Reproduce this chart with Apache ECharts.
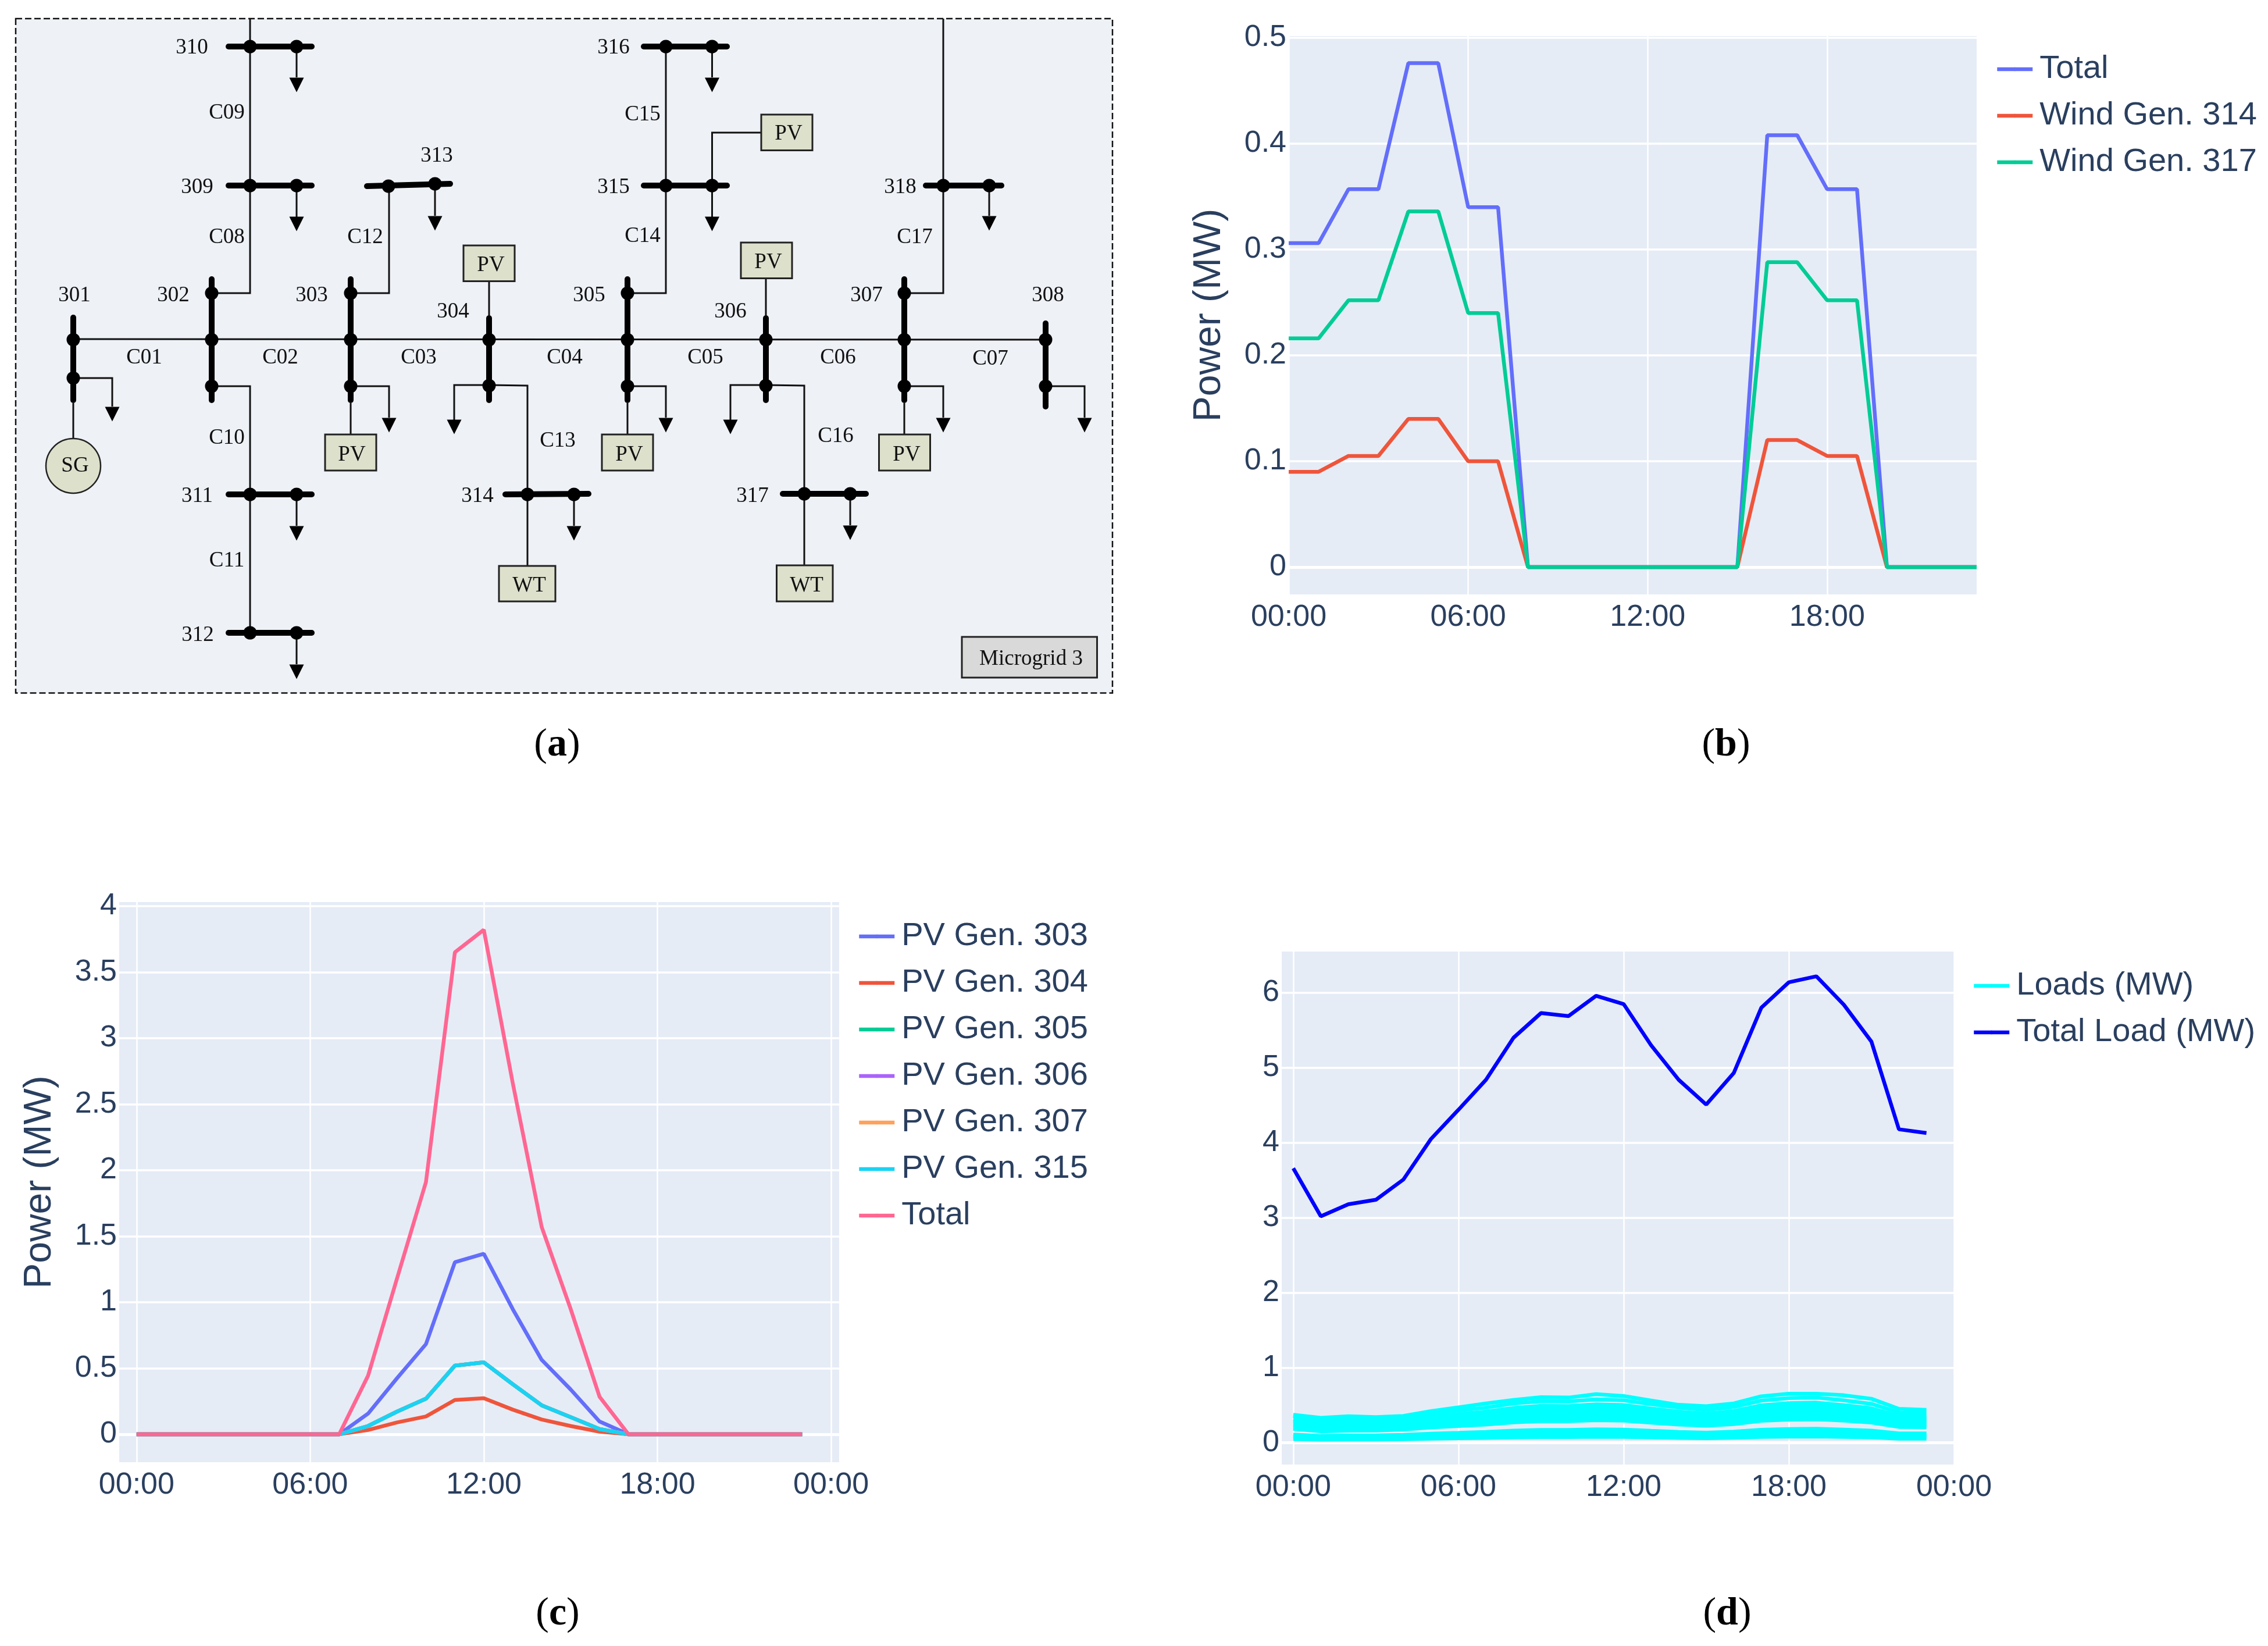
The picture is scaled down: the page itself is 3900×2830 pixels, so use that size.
<!DOCTYPE html>
<html><head><meta charset="utf-8">
<style>html,body{margin:0;padding:0;background:#fff}#c{width:3900px;height:2830px}</style>
<script src="https://cdn.jsdelivr.net/npm/echarts@6/dist/echarts.min.js"></script>
</head><body><div id="c"></div>
<script>
// ---------- panel (b) ----------
const hours = [0,1,2,3,4,5,6,7,8,9,10,11,12,13,14,15,16,17,18,19,20,21,22,23];
const windTotal = [0.306,0.306,0.357,0.357,0.476,0.476,0.34,0.34,0,0,0,0,0,0,0,0,0.408,0.408,0.357,0.357,0,0,0,0];
const wind314 = [0.09,0.09,0.105,0.105,0.14,0.14,0.1,0.1,0,0,0,0,0,0,0,0,0.12,0.12,0.105,0.105,0,0,0,0];
const wind317 = [0.216,0.216,0.252,0.252,0.336,0.336,0.24,0.24,0,0,0,0,0,0,0,0,0.288,0.288,0.252,0.252,0,0,0,0];
const bYTicks = [0,0.1,0.2,0.3,0.4,0.5];
const bXTicks = [0,6,12,18];
// ---------- panel (c) ----------
const pv303 = [0,0,0,0,0,0,0,0,0.157,0.425,0.683,1.303,1.367,0.948,0.564,0.34,0.097,0,0,0,0,0,0,0];
const pv304 = [0,0,0,0,0,0,0,0,0.033,0.09,0.135,0.26,0.273,0.187,0.112,0.063,0.02,0,0,0,0,0,0,0];
const pv305 = [0,0,0,0,0,0,0,0,0.063,0.172,0.27,0.52,0.545,0.38,0.22,0.13,0.04,0,0,0,0,0,0,0];
const pv306 = [0,0,0,0,0,0,0,0,0.063,0.172,0.27,0.52,0.545,0.38,0.22,0.13,0.04,0,0,0,0,0,0,0];
const pv307 = [0,0,0,0,0,0,0,0,0.063,0.172,0.27,0.52,0.545,0.38,0.22,0.13,0.04,0,0,0,0,0,0,0];
const pv315 = [0,0,0,0,0,0,0,0,0.063,0.172,0.27,0.52,0.545,0.38,0.22,0.13,0.04,0,0,0,0,0,0,0];
const pvTotal = [0,0,0,0,0,0,0,0,0.444,1.18,1.91,3.65,3.82,2.66,1.57,0.95,0.284,0,0,0,0,0,0,0];
const cYTicks = [0,0.5,1,1.5,2,2.5,3,3.5,4];
const cdXTicks = [0,6,12,18,24];
const xTickText = {0:'00:00',6:'06:00',12:'12:00',18:'18:00',24:'00:00'};
// ---------- panel (d) ----------
const totalLoad = [3.66,3.02,3.18,3.24,3.51,4.05,4.44,4.84,5.40,5.73,5.69,5.96,5.85,5.30,4.84,4.51,4.93,5.80,6.14,6.22,5.84,5.35,4.18,4.13];
const loadA = [.374,.332,.353,.343,.358,.421,.473,.525,.571,.608,.603,.649,.623,.563,.506,.488,.525,.62,.655,.655,.634,.587,.452,.439];
const loadB = [.355,.293,.308,.314,.340,.393,.431,.469,.524,.556,.552,.578,.567,.514,.469,.437,.478,.563,.596,.603,.566,.519,.405,.401];
const loadC = [.315,.260,.273,.279,.302,.348,.382,.416,.464,.493,.489,.513,.503,.456,.416,.388,.424,.499,.528,.535,.502,.460,.359,.355];
const loadD = [.293,.242,.254,.259,.281,.324,.355,.387,.432,.458,.455,.477,.468,.424,.387,.361,.394,.464,.491,.498,.467,.428,.334,.330];
const loadE = [.271,.223,.235,.240,.260,.300,.329,.358,.400,.424,.421,.441,.433,.392,.358,.334,.365,.429,.454,.460,.432,.396,.309,.306];
const loadF = [.249,.205,.216,.220,.239,.275,.302,.329,.367,.390,.387,.405,.398,.360,.329,.307,.335,.394,.418,.423,.397,.364,.284,.281];
const loadG = [.227,.187,.197,.201,.218,.251,.275,.300,.335,.355,.353,.370,.363,.329,.300,.280,.306,.360,.381,.386,.362,.332,.259,.256];
const loadH = [.205,.169,.178,.181,.197,.227,.249,.271,.302,.321,.319,.334,.328,.297,.271,.253,.276,.325,.344,.348,.327,.300,.234,.231];
const loadI = [.185,.153,.161,.164,.177,.205,.224,.244,.273,.289,.287,.301,.295,.268,.244,.228,.249,.293,.310,.314,.295,.270,.211,.209];
const loadJ = [.110,.091,.095,.097,.105,.122,.133,.145,.162,.172,.171,.179,.176,.159,.145,.135,.148,.174,.184,.187,.175,.161,.125,.124];
const loadK = [.090,.074,.078,.079,.086,.099,.109,.119,.132,.140,.139,.146,.143,.130,.119,.110,.121,.142,.150,.152,.143,.131,.102,.101];
const loadL = [.070,.057,.060,.062,.067,.077,.084,.092,.103,.109,.108,.113,.111,.101,.092,.086,.094,.110,.117,.118,.111,.102,.079,.078];
const loadM = [.049,.041,.043,.044,.047,.055,.060,.065,.073,.077,.077,.080,.079,.072,.065,.061,.067,.078,.083,.084,.079,.072,.056,.056];
const dYTicks = [0,1,2,3,4,5,6];
// ---------- panel (a): one-line diagram, in diagram units ----------
const busbars = [
 [[126,546],[126,688]],[[364,480],[364,688]],[[603,480],[603,688]],[[841,547],[841,688]],
 [[1079,480],[1079,688]],[[1317,547],[1317,688]],[[1555,480],[1555,688]],[[1798,556],[1798,699]],
 [[393,80],[536,80]],[[393,319],[536,319]],[[631,320],[774,316]],[[1107,80],[1250,80]],[[1107,319],[1250,319]],
 [[1592,319],[1722,319]],[[393,850],[536,850]],[[393,1088],[536,1088]],[[869,850],[1012,849]],[[1346,849],[1489,849]]
];
const wires = [
 [[126,583],[1798,584]],
 [[364,504],[430,504],[430,32]],[[603,504],[669,504],[669,320]],[[1079,504],[1145,504],[1145,80]],[[1555,504],[1622,504],[1622,32]],
 [[841,483],[841,542]],[[1317,478],[1317,542]],
 [[1309,228],[1224.5,228],[1224.5,373]],
 [[510,80],[510,133]],[[1224.5,80],[1224.5,133]],[[510,319],[510,373]],[[748,316],[748,371]],[[1701,319],[1701,371]],
 [[126,650],[193,650],[193,699]],[[126,693],[126,754]],
 [[364,664],[430,664],[430,1088]],[[510,850],[510,904]],[[510,1088],[510,1142]],
 [[603,664],[669,664],[669,718]],[[603,693],[603,747]],
 [[781,722],[781,662],[841,662],[907,663],[907,973]],[[987,850],[987,904]],
 [[1079,664],[1145,664],[1145,718]],[[1079,693],[1079,747]],
 [[1256,722],[1256,662],[1317,662],[1383,663],[1383,972]],[[1462,849],[1462,903]],
 [[1555,664],[1622,664],[1622,718]],[[1555,693],[1555,747]],[[1798,664],[1865,664],[1865,718]]
];
const nodes = [
 [126,584],[364,584],[603,584],[841,584],[1079,584],[1317,584],[1555,584],[1798,584],
 [364,504],[603,504],[1079,504],[1555,504],
 [126,650],[364,664],[603,664],[841,663],[1079,664],[1317,663],[1555,664],[1798,664],
 [430,80],[510,80],[430,319],[510,319],[668,320],[748,316],[1145,80],[1224.5,80],[1145,319],[1224.5,319],
 [1622,319],[1701,319],[430,850],[510,850],[430,1088],[510,1088],[907,850],[987,850],[1383,849],[1462,849]
];
const loadArrows = [
 [510,146],[1224.5,146],[510,385],[1224.5,385],[748,384],[1701,384],[193,712],[510,917],[510,1155],
 [669,731],[781,734],[987,917],[1145,731],[1256,734],[1462,916],[1622,731],[1865,731]
];
const genBoxes = [
 [797,422,885,483.5,'PV',844,456],[1274,417,1362,478.5,'PV',1321,451],[1309,197,1397,258.5,'PV',1356,230],
 [559,747,647,809,'PV',605,782],[1035,747,1123,809,'PV',1082,782],[1511.5,747,1599.5,809,'PV',1559,782],
 [858,973,955,1034,'WT',910,1007],[1335.5,972,1432,1034,'WT',1387,1007]
];
const gridTagBox = [[1654,1095,1886.5,1165,'Microgrid 3',1773,1133]];
const syncGen = [[126,801,'SG']];
const diagramLabels = [
 [330,82,'310'],[339,322,'309'],[751,268,'313'],[390,194,'C09'],[390,408,'C08'],[628,408,'C12'],
 [128,508,'301'],[298,508,'302'],[536,508,'303'],[779,536,'304'],[1013,508,'305'],[1256,536,'306'],[1490,508,'307'],[1802,508,'308'],
 [248,615,'C01'],[482,615,'C02'],[720,615,'C03'],[971,615,'C04'],[1213,615,'C05'],[1441,615,'C06'],[1703,617,'C07'],
 [1055,82,'316'],[1105,197,'C15'],[1055,322,'315'],[1105,406,'C14'],[1548,322,'318'],[1573,408,'C17'],
 [390,753,'C10'],[390,964,'C11'],[339,853,'311'],[340,1092,'312'],[959,758,'C13'],[821,853,'314'],
 [1437,750,'C16'],[1294,853,'317']
];
const captions = ['a','b','c','d'];

// ---------- styling ----------
const INK = '#2a3f5f', SANS = '"Liberation Sans", Arial, sans-serif', SERIF = '"Liberation Serif", serif';
const PLOT = '#E5ECF6';
const C = {blue:'#636EFA',red:'#EF553B',green:'#00CC96',purple:'#AB63FA',orange:'#FFA15A',sky:'#19D3F3',pink:'#FF6692'};
const pair = ys => ys.map((v,i)=>[hours[i],v]);

function plotAxes(g, xr, yr, xTicks, yTicks, name, nameGap){
  return {
    x:{type:'value',gridIndex:g,min:xr[0],max:xr[1],
       axisLine:{show:false},
       axisTick:{show:false,customValues:xTicks},
       splitLine:{show:true,lineStyle:{color:'#fff',width:2.5}},
       axisLabel:{customValues:xTicks,color:INK,fontFamily:SANS,fontSize:52,margin:14,
                  showMinLabel:true,showMaxLabel:true,hideOverlap:false,
                  formatter:v=>xTickText[v]}},
    y:{type:'value',gridIndex:g,min:yr[0],max:yr[1],
       name:name,nameLocation:'middle',nameGap:nameGap,nameRotate:90,
       nameTextStyle:{color:INK,fontFamily:SANS,fontSize:66},
       axisLine:{show:false},
       axisTick:{show:false,customValues:yTicks},
       splitLine:{show:true,lineStyle:{color:'#fff',width:3.5}},
       axisLabel:{customValues:yTicks,color:INK,fontFamily:SANS,fontSize:52,margin:4,padding:[10,0,0,0],
                  showMinLabel:true,showMaxLabel:true,hideOverlap:false,
                  formatter:v=>String(v)}}
  };
}
const zero = {silent:true,symbol:'none',z:1,label:{show:false},lineStyle:{color:'#fff',width:5,type:'solid'},data:[{yAxis:0}],animation:false};
function lineS(g,name,ys,color,mark){
  const s={type:'line',name,xAxisIndex:g,yAxisIndex:g,data:pair(ys),symbol:'none',showSymbol:false,
           lineStyle:{color,width:6.5},itemStyle:{color},z:3,animation:false};
  if(mark) s.markLine=zero;
  return s;
}
function legendOf(items,left,top){
  return {show:true,orient:'vertical',left,top,padding:0,itemWidth:61,itemHeight:8,itemGap:24,selectedMode:false,
    textStyle:{color:INK,fontFamily:SANS,fontSize:56,padding:[0,0,0,7]},
    data:items.map(([name,color])=>({name,itemStyle:{color},lineStyle:{color,width:6.5}}))};
}
const bA=plotAxes(1,[0,23],[-0.0258,0.5016],bXTicks,bYTicks,'Power (MW)',103);
const cA=plotAxes(2,[-0.6,24.28],[-0.211,4.03],cdXTicks,cYTicks,'Power (MW)',103);
const dA=plotAxes(3,[-0.42,24],[-0.29,6.55],cdXTicks,dYTicks,'',0);
delete dA.y.name;

const loadNames=[loadA,loadB,loadC,loadD,loadE,loadF,loadG,loadH,loadI,loadJ,loadK,loadL,loadM];

const option={
 animation:false,backgroundColor:'#fff',
 grid:[
  {left:27,top:32,width:1886,height:1159.5,show:true,backgroundColor:'#EEF1F6',borderColor:'#111',borderWidth:2.5,borderType:[11,5],z:0},
  {left:2216,top:62,width:1183,height:960,show:true,backgroundColor:PLOT,borderWidth:0},
  {left:205,top:1551,width:1238,height:963,show:true,backgroundColor:PLOT,borderWidth:0},
  {left:2204,top:1636,width:1156,height:882,show:true,backgroundColor:PLOT,borderWidth:0}
 ],
 xAxis:[{type:'value',gridIndex:0,min:27,max:1913,show:false},bA.x,cA.x,dA.x],
 yAxis:[{type:'value',gridIndex:0,min:32,max:1191.5,inverse:true,show:false},bA.y,cA.y,dA.y],
 legend:[
  legendOf([['Total',C.blue],['Wind Gen. 314',C.red],['Wind Gen. 317',C.green]],3431,91),
  legendOf([['PV Gen. 303',C.blue],['PV Gen. 304',C.red],['PV Gen. 305',C.green],['PV Gen. 306',C.purple],['PV Gen. 307',C.orange],['PV Gen. 315',C.sky],['Total',C.pink]],1474,1582),
  legendOf([['Loads (MW)','#00FFFF'],['Total Load (MW)','#0000FF']],3391,1667)
 ],
 graphic:captions.map((c,i)=>({type:'text',x:[958,2968,959,2970][i],y:[1281,1281,2775,2775][i],
   style:{text:`{p|(}{b|${c}}{p|)}`,align:'center',verticalAlign:'middle',
     rich:{p:{fontFamily:SERIF,fontSize:68,fill:'#000',color:'#000'},b:{fontFamily:SERIF,fontSize:68,fontWeight:'bold',fill:'#000',color:'#000'}}}})),
 series:[
  {type:'lines',coordinateSystem:'cartesian2d',xAxisIndex:0,yAxisIndex:0,polyline:true,z:2,silent:true,
   lineStyle:{color:'#111',width:3,opacity:1},data:wires.map(c=>({coords:c}))},
  {type:'lines',coordinateSystem:'cartesian2d',xAxisIndex:0,yAxisIndex:0,polyline:true,z:3,silent:true,
   lineStyle:{color:'#000',width:10,opacity:1,cap:'round'},data:busbars.map(c=>({coords:c}))},
  {type:'scatter',xAxisIndex:0,yAxisIndex:0,z:4,silent:true,symbol:'circle',symbolSize:23,itemStyle:{color:'#000',opacity:1},data:nodes},
  {type:'scatter',xAxisIndex:0,yAxisIndex:0,z:4,silent:true,symbol:'triangle',symbolRotate:180,symbolSize:[25,25],itemStyle:{color:'#000',opacity:1},data:loadArrows},
  {type:'scatter',xAxisIndex:0,yAxisIndex:0,z:5,silent:true,symbol:'circle',symbolSize:94,
   itemStyle:{color:'#DDE1CC',borderColor:'#222',borderWidth:2.5,opacity:1},
   label:{show:true,position:'inside',formatter:p=>p.data[2],fontFamily:SERIF,fontSize:37,color:'#111',padding:[5,0,0,6]},data:syncGen},
  {type:'custom',xAxisIndex:0,yAxisIndex:0,z:5,silent:true,clip:false,
   data:genBoxes.map(b=>[b[0],b[1],b[2],b[3]]),
   renderItem:(p,api)=>{const b=genBoxes[p.dataIndex],a=api.coord([b[0],b[1]]),e=api.coord([b[2],b[3]]),t=api.coord([b[5],b[6]]);
     return {type:'group',children:[
      {type:'rect',shape:{x:a[0],y:a[1],width:e[0]-a[0],height:e[1]-a[1]},style:{fill:'#DDE1CC',stroke:'#222',lineWidth:3}},
      {type:'text',x:t[0],y:t[1],style:{text:b[4],fontFamily:SERIF,fontSize:37,fill:'#111',align:'center',verticalAlign:'middle'}}]};}},
  {type:'custom',xAxisIndex:0,yAxisIndex:0,z:5,silent:true,clip:false,
   data:gridTagBox.map(b=>[b[0],b[1],b[2],b[3]]),
   renderItem:(p,api)=>{const b=gridTagBox[p.dataIndex],a=api.coord([b[0],b[1]]),e=api.coord([b[2],b[3]]),t=api.coord([b[5],b[6]]);
     return {type:'group',children:[
      {type:'rect',shape:{x:a[0],y:a[1],width:e[0]-a[0],height:e[1]-a[1]},style:{fill:'#D9D9D9',stroke:'#222',lineWidth:3}},
      {type:'text',x:t[0],y:t[1],style:{text:b[4],fontFamily:SERIF,fontSize:37,fill:'#111',align:'center',verticalAlign:'middle'}}]};}},
  {type:'custom',xAxisIndex:0,yAxisIndex:0,z:6,silent:true,clip:false,
   data:diagramLabels.map(l=>[l[0],l[1]]),
   renderItem:(p,api)=>{const l=diagramLabels[p.dataIndex],t=api.coord([l[0],l[1]]);
     return {type:'text',x:t[0],y:t[1],style:{text:l[2],fontFamily:SERIF,fontSize:37,fill:'#111',align:'center',verticalAlign:'middle'}};}},

  lineS(1,'Total',windTotal,C.blue,true),
  lineS(1,'Wind Gen. 314',wind314,C.red),
  lineS(1,'Wind Gen. 317',wind317,C.green),

  lineS(2,'PV Gen. 303',pv303,C.blue,true),
  lineS(2,'PV Gen. 304',pv304,C.red),
  lineS(2,'PV Gen. 305',pv305,C.green),
  lineS(2,'PV Gen. 306',pv306,C.purple),
  lineS(2,'PV Gen. 307',pv307,C.orange),
  lineS(2,'PV Gen. 315',pv315,C.sky),
  lineS(2,'Total',pvTotal,C.pink),

  ...loadNames.map((a,i)=>lineS(3,'Loads (MW)',a,'#00FFFF',i===0)),
  lineS(3,'Total Load (MW)',totalLoad,'#0000FF')
 ]
};
echarts.init(document.getElementById('c'),null,{renderer:'canvas'}).setOption(option);
</script></body></html>
